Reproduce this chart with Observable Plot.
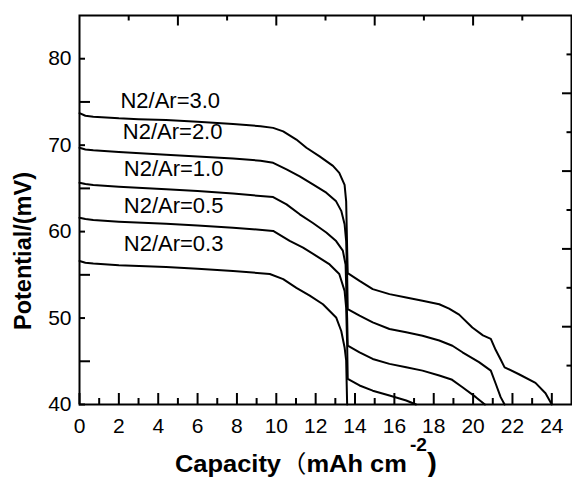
<!DOCTYPE html>
<html>
<head>
<meta charset="utf-8">
<script src="https://cdn.jsdelivr.net/npm/d3@7"></script>
<script src="https://cdn.jsdelivr.net/npm/@observablehq/plot@0.6"></script>
<style>
  html, body { margin: 0; padding: 0; background: #fff; }
  svg { font-family: "Liberation Sans", Arial, sans-serif; }
</style>
</head>
<body>
<div id="chart"></div>
<script>
// ---- data (capacity in mAh cm^-2, potential in mV) ----
const curve30 = [[0,73.7],[0.3,73.4],[0.7,73.3],[2,73.1],[3,73.0],[4.4,72.9],[6,72.7],[7.8,72.45],[9.2,72.2],[9.84,72.0],[10.35,71.6],[11.02,70.65],[11.53,69.7],[12.2,68.7],[12.88,67.6],[13.2,66.8],[13.47,65.4],[13.55,63.5],[13.6,58],[13.63,55.2],[14.23,54.3],[14.9,53.35],[15.75,52.77],[16.6,52.38],[17.43,52.0],[18.28,51.6],[18.78,51.1],[19.29,50.4],[19.96,48.9],[20.5,48.0],[20.9,47.6],[21.15,46.3],[21.4,45.2],[21.6,44.3],[22.33,43.5],[23.17,42.5],[23.68,41.3],[24.0,40.0]];
const curve20 = [[0,69.7],[0.3,69.5],[0.7,69.4],[2,69.2],[4.4,68.9],[6,68.7],[7.8,68.46],[9.2,68.2],[9.84,67.96],[10.52,67.2],[11.19,66.4],[11.86,65.46],[12.54,64.5],[13.04,63.5],[13.3,62.4],[13.47,60.85],[13.55,58.9],[13.6,55],[13.63,51.04],[14.23,50.27],[14.9,49.5],[15.75,48.73],[16.6,48.35],[17.43,47.96],[18.28,47.4],[18.95,46.8],[19.46,46.04],[20.3,44.9],[20.9,43.92],[21.15,42.4],[21.4,40.85],[21.6,40.0]];
const curve10 = [[0,65.65],[0.3,65.5],[0.7,65.4],[2,65.2],[4.4,64.9],[6,64.7],[7.8,64.4],[9.84,64.0],[10.52,63.15],[11.19,62.0],[11.86,61.0],[12.54,59.9],[13.04,58.9],[13.38,57.8],[13.52,56.2],[13.6,50],[13.63,46.8],[14.23,46.04],[14.9,45.27],[15.75,44.7],[16.6,44.3],[17.43,43.92],[18.28,43.35],[18.9,42.9],[19.46,42.0],[20.14,40.85],[20.6,40.0]];
const curve05 = [[0,61.6],[0.3,61.45],[0.7,61.35],[2,61.15],[4.4,60.9],[6,60.7],[7.8,60.46],[9.84,60.08],[10.68,58.92],[11.36,58.15],[12.03,57.2],[12.71,56.2],[13.2,55.1],[13.47,53.15],[13.55,51.2],[13.6,47],[13.63,42.96],[14.23,42.2],[14.9,41.6],[15.75,41.04],[16.6,40.46],[17.1,40.0]];
const curve03 = [[0,56.6],[0.3,56.4],[0.7,56.3],[2,56.1],[4.4,55.9],[6,55.7],[7.8,55.45],[9.67,55.1],[10.35,54.5],[11.02,53.5],[11.7,52.6],[12.37,51.6],[13.04,50.07],[13.3,48.5],[13.47,46.6],[13.55,45.1],[13.6,40.0]];
const seriesNames = ["N2/Ar=3.0","N2/Ar=2.0","N2/Ar=1.0","N2/Ar=0.5","N2/Ar=0.3"];
const seriesData = [curve30, curve20, curve10, curve05, curve03];
// label anchors in data units (capacity, potential)
const labelX = [2.08, 2.2, 2.25, 2.25, 2.25];
const labelY = [74.27, 70.69, 66.42, 62.15, 57.77];

// ---- ticks ----
const xLabeled = [0,2,4,6,8,10,12,14,16,18,20,22,24];
const xMinor = [1,3,5,7,9,11,13,15,17,19,21,23];
const yLabeled = [40,50,60,70,80];
const yMid = [45,55,65,75];
const topLong = [5,10,15,20];
const topShort = [2.5,7.5,12.5,17.5,22.5];
const rightLong = [49,58,67,76];
const rightShort = [44.5,53.5,62.5,71.5,80.5];

const rows = seriesData.flatMap((pts, i) => pts.map(([x, y]) => ({series: seriesNames[i], x, y})));
const labels = seriesNames.map((name, i) => ({name, x: labelX[i], y: labelY[i]}));

const W = 572, H = 477, mL = 79, mR = 1, mT = 15, mB = 73;
const iw = W - mL - mR, ih = H - mT - mB;

const chart = Plot.plot({
  width: W, height: H,
  marginLeft: mL, marginRight: mR, marginTop: mT, marginBottom: mB,
  style: {fontFamily: '"Liberation Sans", Arial, sans-serif', background: "#fff", color: "#000"},
  x: {domain: [0, 25]},
  y: {domain: [40, 85]},
  marks: [
    Plot.line(rows, {x: "x", y: "y", z: "series", stroke: "#000", strokeWidth: 2, strokeLinejoin: "round"}),
    Plot.text(labels, {x: "x", y: "y", text: "name", textAnchor: "start", lineAnchor: "bottom", fontSize: 22, fill: "#000"}),
    // inward ticks
    Plot.tickX(xLabeled, {x: d => d, insetTop: ih - 11, strokeWidth: 2}),
    Plot.tickX(xMinor, {x: d => d, insetTop: ih - 6, strokeWidth: 2}),
    Plot.tickX(topLong, {x: d => d, insetBottom: ih - 10.5, strokeWidth: 2}),
    Plot.tickX(topShort, {x: d => d, insetBottom: ih - 5.5, strokeWidth: 2}),
    Plot.tickY(yLabeled, {y: d => d, insetRight: iw - 6, strokeWidth: 2}),
    Plot.tickY(yMid, {y: d => d, insetRight: iw - 11, strokeWidth: 2}),
    Plot.tickY(rightLong, {y: d => d, insetLeft: iw - 9, strokeWidth: 2}),
    Plot.tickY(rightShort, {y: d => d, insetLeft: iw - 4.5, strokeWidth: 2}),
    Plot.axisX(xLabeled, {tickSize: 0, tickPadding: 14, fontSize: 21, label: null}),
    Plot.axisY(yLabeled, {tickSize: 0, tickPadding: 8, fontSize: 21, label: null}),
    Plot.frame({stroke: "#000", strokeWidth: 2})
  ]
});

document.getElementById("chart").appendChild(chart);

const svg = d3.select(chart);
// x axis title
const xt = svg.append("text")
  .attr("text-anchor", "start")
  .attr("font-size", 24).attr("font-weight", "bold").attr("fill", "#000");
xt.append("tspan").text("Capacity");
xt.append("tspan").attr("font-family", '"Noto Sans CJK SC", sans-serif').attr("font-weight", "normal").text("（");
xt.append("tspan").text("mAh cm");
xt.append("tspan").attr("font-size", 18).attr("dy", -21).attr("dx", 3).text("-2");
xt.append("tspan").attr("dy", 21).attr("font-size", 28).text(")");
{
  const bb = xt.node().getBBox();
  const s = 262 / bb.width;
  xt.attr("transform", `translate(${175 - bb.x * s},471.5) scale(${s},1)`);
}
// y axis title
const yt = svg.append("text")
  .attr("text-anchor", "middle")
  .attr("font-size", 24).attr("font-weight", "bold").attr("fill", "#000")
  .text("Potential/(mV)");
{
  const bb = yt.node().getBBox();
  const s = 158 / bb.width;
  yt.attr("transform", `translate(31,251) rotate(-90) scale(${s},1)`);
}
</script>
</body>
</html>
